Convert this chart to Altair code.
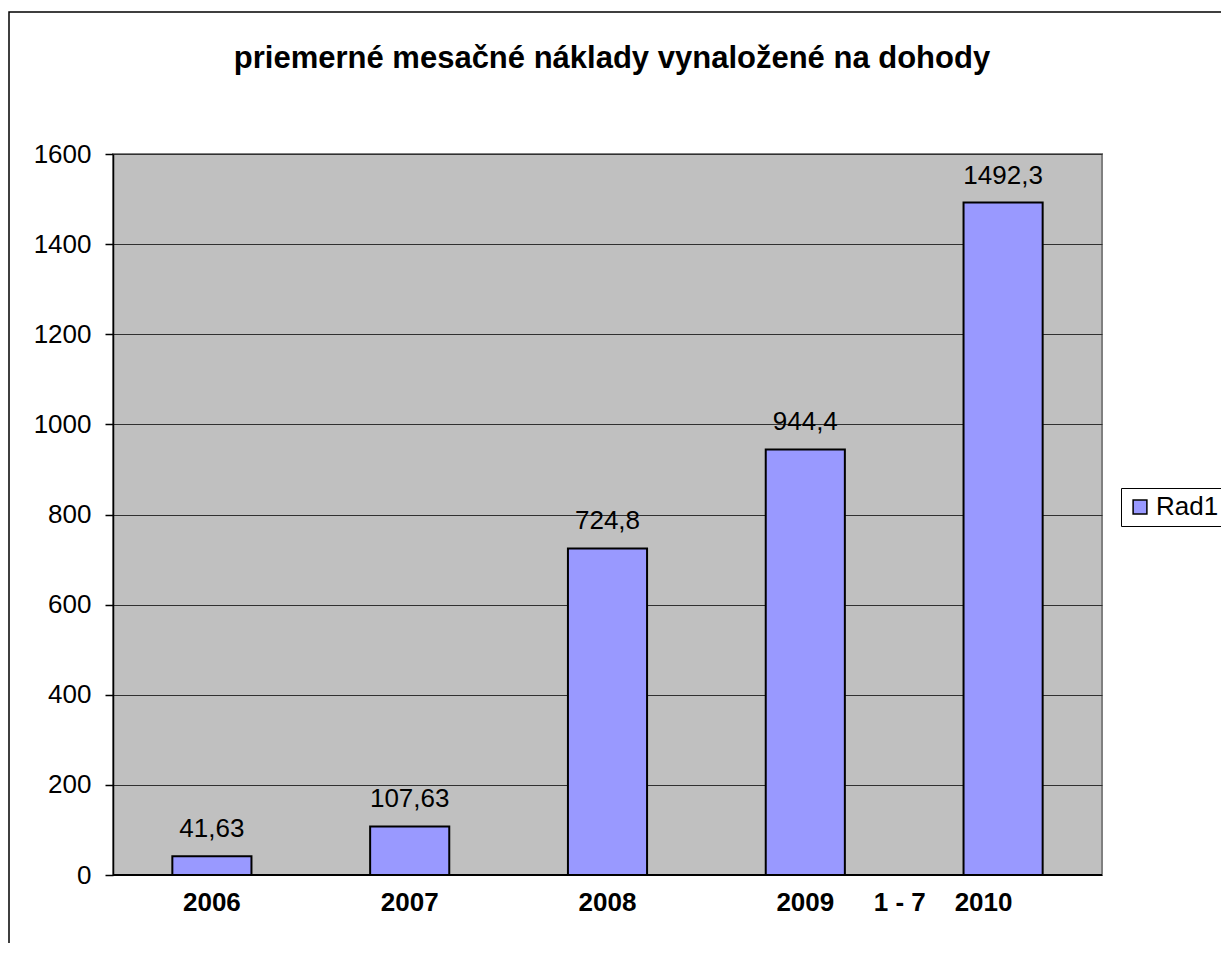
import altair as alt
import pandas as pd

categories = ["2006", "2007", "2008", "2009", "2010"]
cat_labels = ["2006", "2007", "2008", "2009", "1 - 7\u00a0\u00a0\u00a0\u00a02010"]
values = [41.63, 107.63, 724.8, 944.4, 1492.3]
value_labels = ["41,63", "107,63", "724,8", "944,4", "1492,3"]
series_name = "Rad1"
title_text = "priemerné mesačné náklady vynaložené na dohody"
y_ticks = [0, 200, 400, 600, 800, 1000, 1200, 1400, 1600]

df = pd.DataFrame({
    "cat": categories,
    "lab": cat_labels,
    "val": values,
    "vlab": value_labels,
    "series": [series_name] * len(categories),
})

W, H = 989, 721
FONT = "Liberation Sans"

xenc = alt.X("cat:N", sort=categories,
             scale=alt.Scale(paddingInner=0.6, paddingOuter=0.3), axis=None)
yenc = alt.Y("val:Q", scale=alt.Scale(domain=[0, 1600], nice=False),
             axis=alt.Axis(values=y_ticks, title=None, format="d",
                           labelFontSize=26, labelFont=FONT, labelColor="black",
                           tickSize=8, tickColor="black", tickWidth=1.5,
                           labelPadding=14, domainColor="black", domainWidth=1.5,
                           grid=True, gridColor="#303030", gridWidth=1))

base = alt.Chart(df)

bars = base.mark_bar(stroke="black", strokeWidth=2).encode(
    x=xenc, y=yenc,
    color=alt.Color("series:N", scale=alt.Scale(range=["#9999FF"]),
                    legend=alt.Legend(title=None, orient="none", legendX=1008,
                                      legendY=334, symbolType="square",
                                      symbolSize=190, symbolStrokeColor="black",
                                      symbolStrokeWidth=1.5, labelFontSize=26,
                                      labelFont=FONT, labelColor="black",
                                      strokeColor="black", padding=6,
                                      labelOffset=3)),
)

vlabels = base.mark_text(fontSize=26, font=FONT, color="black", dy=-19,
                         baseline="alphabetic").encode(
    x=alt.X("cat:N", sort=categories), y="val:Q", text="vlab:N")

xlabels_main = base.transform_filter(alt.datum.cat != "2010").mark_text(
    fontSize=26, font=FONT, fontWeight="bold", color="black",
    baseline="alphabetic").encode(
    x=alt.X("cat:N", sort=categories), y=alt.value(H + 36), text="lab:N")

xlabels_last = base.transform_filter(alt.datum.cat == "2010").mark_text(
    fontSize=26, font=FONT, fontWeight="bold", color="black",
    baseline="alphabetic", dx=-60).encode(
    x=alt.X("cat:N", sort=categories), y=alt.value(H + 36), text="lab:N")

bottom_line = base.mark_rule(color="black", strokeWidth=1.5).encode(
    x=alt.value(0), x2=alt.value(W), y=alt.value(H))

title = alt.Chart(pd.DataFrame({"t": [title_text]})).mark_text(
    fontSize=31, font=FONT, fontWeight="bold", color="black",
    baseline="alphabetic").encode(
    text="t:N", x=alt.value(499), y=alt.value(-86))

border = alt.Chart(pd.DataFrame({"a": [0]})).mark_rect(
    fillOpacity=0, stroke="black", strokeWidth=1.5).encode(
    x=alt.value(-104), x2=alt.value(W + 300),
    y=alt.value(-142), y2=alt.value(H + 300))

chart = alt.layer(border, bars, vlabels, xlabels_main, xlabels_last,
                  bottom_line, title).properties(
    width=W, height=H,
    padding={"left": 105, "top": 146, "right": 119, "bottom": 68},
    autosize=alt.AutoSizeParams(type="none"),
    background="white",
).configure_view(fill="#C0C0C0", stroke="#808080", strokeWidth=2)

chart.save("out.html", embed_options={"renderer": "svg", "actions": False})
